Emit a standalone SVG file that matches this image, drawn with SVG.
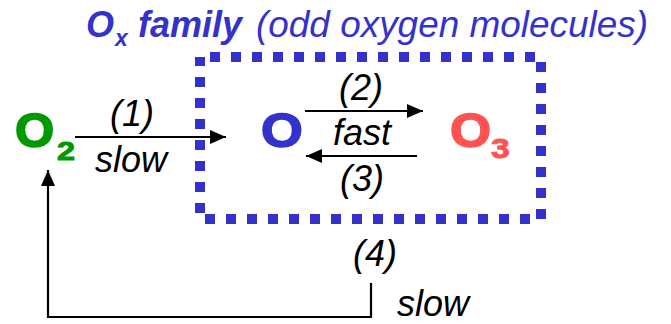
<svg xmlns="http://www.w3.org/2000/svg" width="671" height="324" viewBox="0 0 671 324">
<style>
.t{font-family:"Liberation Sans",Arial,sans-serif;fill:#3333CC;font-style:italic}
.lbl{font-family:"Liberation Sans",Arial,sans-serif;font-style:italic;font-size:36px;fill:#000;text-anchor:middle}
.sp{font-family:"Liberation Sans",Arial,sans-serif;font-weight:bold}
.big{font-size:48px;stroke-width:1.6}
.sub{stroke-width:0.9}
.ln{fill:none;stroke:#000;stroke-width:2.2}
</style>
<defs>
<marker id="ah" viewBox="0 0 16 14" refX="16" refY="7" markerWidth="16" markerHeight="14" markerUnits="userSpaceOnUse" orient="auto">
<path d="M0,0 L16,7 L0,14 z" fill="#000"/>
</marker>
</defs>
<g id="title">
<text class="t" x="86" y="37" font-size="36" font-weight="bold">O</text>
<text class="t" x="115" y="46" font-size="23" font-weight="bold">x</text>
<text class="t" x="138" y="37" font-size="36" font-weight="bold">family</text>
<text class="t" x="256" y="37" font-size="36" textLength="392" lengthAdjust="spacingAndGlyphs">(odd oxygen molecules)</text>
</g>
<g id="ox-family">
<rect x="200" y="57" width="341" height="162" fill="none" stroke="#3333CC" stroke-width="10" stroke-dasharray="10 11" stroke-dashoffset="11"/>
</g>
<g id="O2">
<text class="sp big" fill="#009900" stroke="#009900" transform="translate(15,147) scale(1.05,1)">O</text>
<text class="sp sub" fill="#009900" stroke="#009900" style="font-size:25px" transform="translate(57,160) scale(1.3,1)">2</text>
</g>
<g id="O">
<text class="sp big" fill="#3333CC" stroke="#3333CC" transform="translate(261,147) scale(1.12,1)">O</text>
</g>
<g id="O3">
<text class="sp big" fill="#FF5252" stroke="#FF5252" transform="translate(450,147) scale(1.1,1)">O</text>
<text class="sp sub" fill="#FF5252" stroke="#FF5252" style="font-size:28px" transform="translate(491,158) scale(1.2,1)">3</text>
</g>
<g id="connectors">
<path class="ln" d="M75,137 H226" marker-end="url(#ah)"/>
<path class="ln" d="M305,111 H423" marker-end="url(#ah)"/>
<path class="ln" d="M417,156 H306" marker-end="url(#ah)"/>
<path class="ln" d="M371,283 V317 H48 V170" stroke-width="2.6" marker-end="url(#ah)"/>
</g>
<g id="labels">
<text class="lbl" x="132" y="126">(1)</text>
<text class="lbl" x="131" y="172">slow</text>
<text class="lbl" x="361" y="100">(2)</text>
<text class="lbl" x="362" y="145">fast</text>
<text class="lbl" x="362" y="191">(3)</text>
<text class="lbl" x="375" y="266">(4)</text>
<text class="lbl" x="433" y="316">slow</text>
</g>
</svg>
